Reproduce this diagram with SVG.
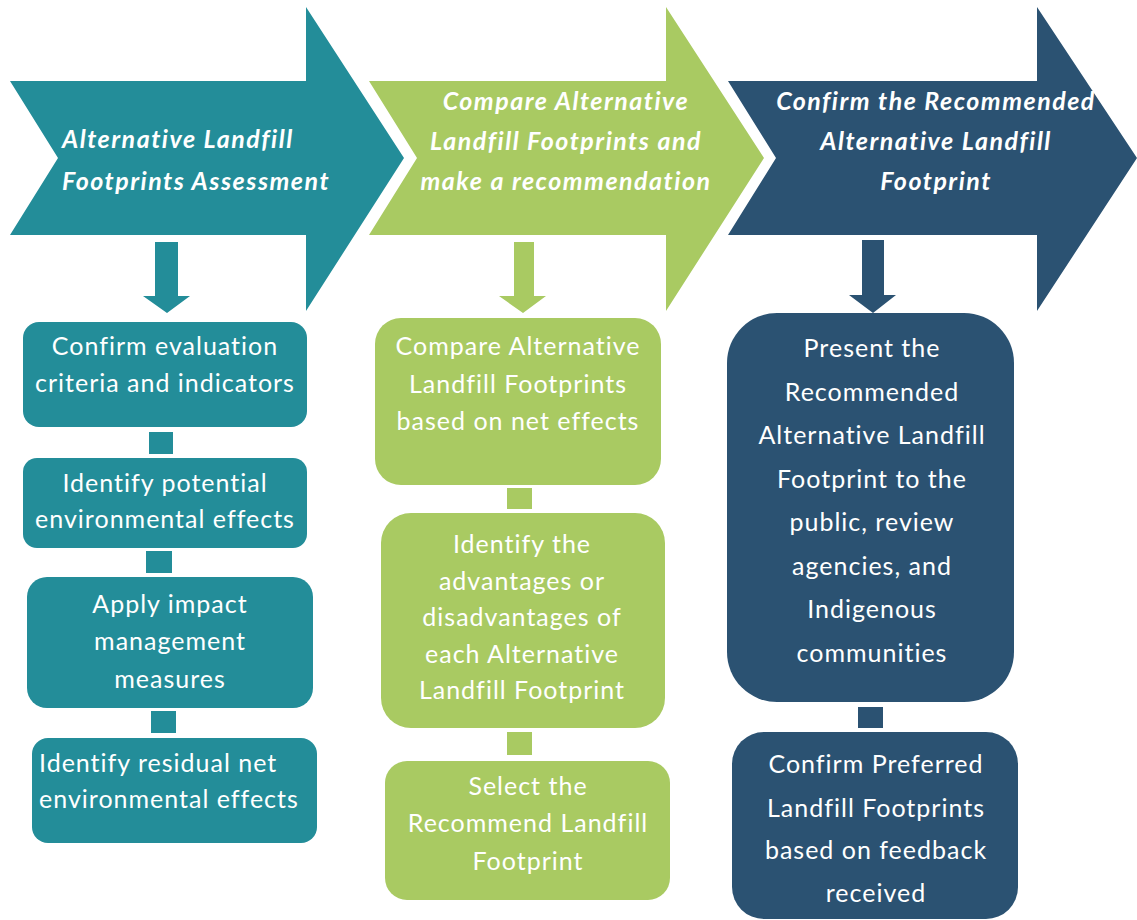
<svg xmlns="http://www.w3.org/2000/svg" width="1137" height="920" viewBox="0 0 1137 920">
<style>
.teal{fill:#238D99}
.green{fill:#A9CA62}
.navy{fill:#2B5272}
.head{font-family:Lato,"Open Sans",sans-serif;font-weight:bold;font-style:italic;font-size:25px;letter-spacing:1.5px;fill:#fff}
.txt{font-family:Lato,"Open Sans",sans-serif;font-size:25px;letter-spacing:1px;fill:#fff}
</style>
<rect width="1137" height="920" fill="#fff"/>
<g id="chevron1">
<polygon class="teal" points="10,81 306,81 306,7 404,158 306,311 306,235 10,235 58,158"/>
<text class="head" x="62" y="148">Alternative Landfill</text>
<text class="head" x="62" y="190">Footprints Assessment</text>
</g>
<g id="chevron2">
<polygon class="green" points="369,81 666,81 666,7 764,158 666,311 666,235 369,235 417,158"/>
<text class="head" text-anchor="middle" x="566" y="110">Compare Alternative</text>
<text class="head" text-anchor="middle" x="566" y="150">Landfill Footprints and</text>
<text class="head" text-anchor="middle" x="566" y="190">make a recommendation</text>
</g>
<g id="chevron3">
<polygon class="navy" points="728,81 1037,81 1037,7 1137,158 1037,311 1037,235 728,235 776,158"/>
<text class="head" text-anchor="middle" x="936" y="110">Confirm the Recommended</text>
<text class="head" text-anchor="middle" x="936" y="150">Alternative Landfill</text>
<text class="head" text-anchor="middle" x="936" y="190">Footprint</text>
</g>
<g id="connectors">
<polygon class="teal" points="155,242 178,242 178,296 190,296 167,313 143,296 155,296"/>
<polygon class="green" points="514,242 534,242 534,296 546,296 523,313 499,296 514,296"/>
<polygon class="navy" points="862,240 884,240 884,295 896,295 873,313 849,295 862,295"/>
<rect class="teal" x="149" y="432" width="24" height="22"/>
<rect class="teal" x="146" y="551" width="26" height="22"/>
<rect class="teal" x="151" y="711" width="25" height="22"/>
<rect class="green" x="507" y="488" width="25" height="21"/>
<rect class="green" x="507" y="732" width="25" height="23"/>
<rect class="navy" x="858" y="707" width="25" height="21"/>
</g>
<g id="box-t1">
<rect class="teal" x="23" y="322" width="284" height="105" rx="16"/>
<text class="txt" text-anchor="middle" x="165" y="355">Confirm evaluation</text>
<text class="txt" text-anchor="middle" x="165" y="392">criteria and indicators</text>
</g>
<g id="box-t2">
<rect class="teal" x="23" y="458" width="284" height="90" rx="14"/>
<text class="txt" text-anchor="middle" x="165" y="492">Identify potential</text>
<text class="txt" text-anchor="middle" x="165" y="528">environmental effects</text>
</g>
<g id="box-t3">
<rect class="teal" x="27" y="577" width="286" height="131" rx="20"/>
<text class="txt" text-anchor="middle" x="170" y="613">Apply impact</text>
<text class="txt" text-anchor="middle" x="170" y="650">management</text>
<text class="txt" text-anchor="middle" x="170" y="688">measures</text>
</g>
<g id="box-t4">
<rect class="teal" x="32" y="738" width="285" height="105" rx="16"/>
<text class="txt" x="39" y="772">Identify residual net</text>
<text class="txt" x="39" y="808">environmental effects</text>
</g>
<g id="box-g1">
<rect class="green" x="375" y="318" width="286" height="167" rx="26"/>
<text class="txt" text-anchor="middle" x="518" y="355">Compare Alternative</text>
<text class="txt" text-anchor="middle" x="518" y="393">Landfill Footprints</text>
<text class="txt" text-anchor="middle" x="518" y="430">based on net effects</text>
</g>
<g id="box-g2">
<rect class="green" x="381" y="513" width="284" height="215" rx="30"/>
<text class="txt" text-anchor="middle" x="522" y="553">Identify the</text>
<text class="txt" text-anchor="middle" x="522" y="590">advantages or</text>
<text class="txt" text-anchor="middle" x="522" y="626">disadvantages of</text>
<text class="txt" text-anchor="middle" x="522" y="663">each Alternative</text>
<text class="txt" text-anchor="middle" x="522" y="699">Landfill Footprint</text>
</g>
<g id="box-g3">
<rect class="green" x="385" y="761" width="285" height="139" rx="22"/>
<text class="txt" text-anchor="middle" x="528" y="795">Select the</text>
<text class="txt" text-anchor="middle" x="528" y="832">Recommend Landfill</text>
<text class="txt" text-anchor="middle" x="528" y="870">Footprint</text>
</g>
<g id="box-n1">
<rect class="navy" x="727" y="313" width="287" height="389" rx="50"/>
<text class="txt" text-anchor="middle" x="872" y="357">Present the</text>
<text class="txt" text-anchor="middle" x="872" y="401">Recommended</text>
<text class="txt" text-anchor="middle" x="872" y="444">Alternative Landfill</text>
<text class="txt" text-anchor="middle" x="872" y="488">Footprint to the</text>
<text class="txt" text-anchor="middle" x="872" y="531">public, review</text>
<text class="txt" text-anchor="middle" x="872" y="575">agencies, and</text>
<text class="txt" text-anchor="middle" x="872" y="618">Indigenous</text>
<text class="txt" text-anchor="middle" x="872" y="662">communities</text>
</g>
<g id="box-n2">
<rect class="navy" x="732" y="732" width="286" height="187" rx="32"/>
<text class="txt" text-anchor="middle" x="876" y="773">Confirm Preferred</text>
<text class="txt" text-anchor="middle" x="876" y="817">Landfill Footprints</text>
<text class="txt" text-anchor="middle" x="876" y="859">based on feedback</text>
<text class="txt" text-anchor="middle" x="876" y="902">received</text>
</g>
</svg>
